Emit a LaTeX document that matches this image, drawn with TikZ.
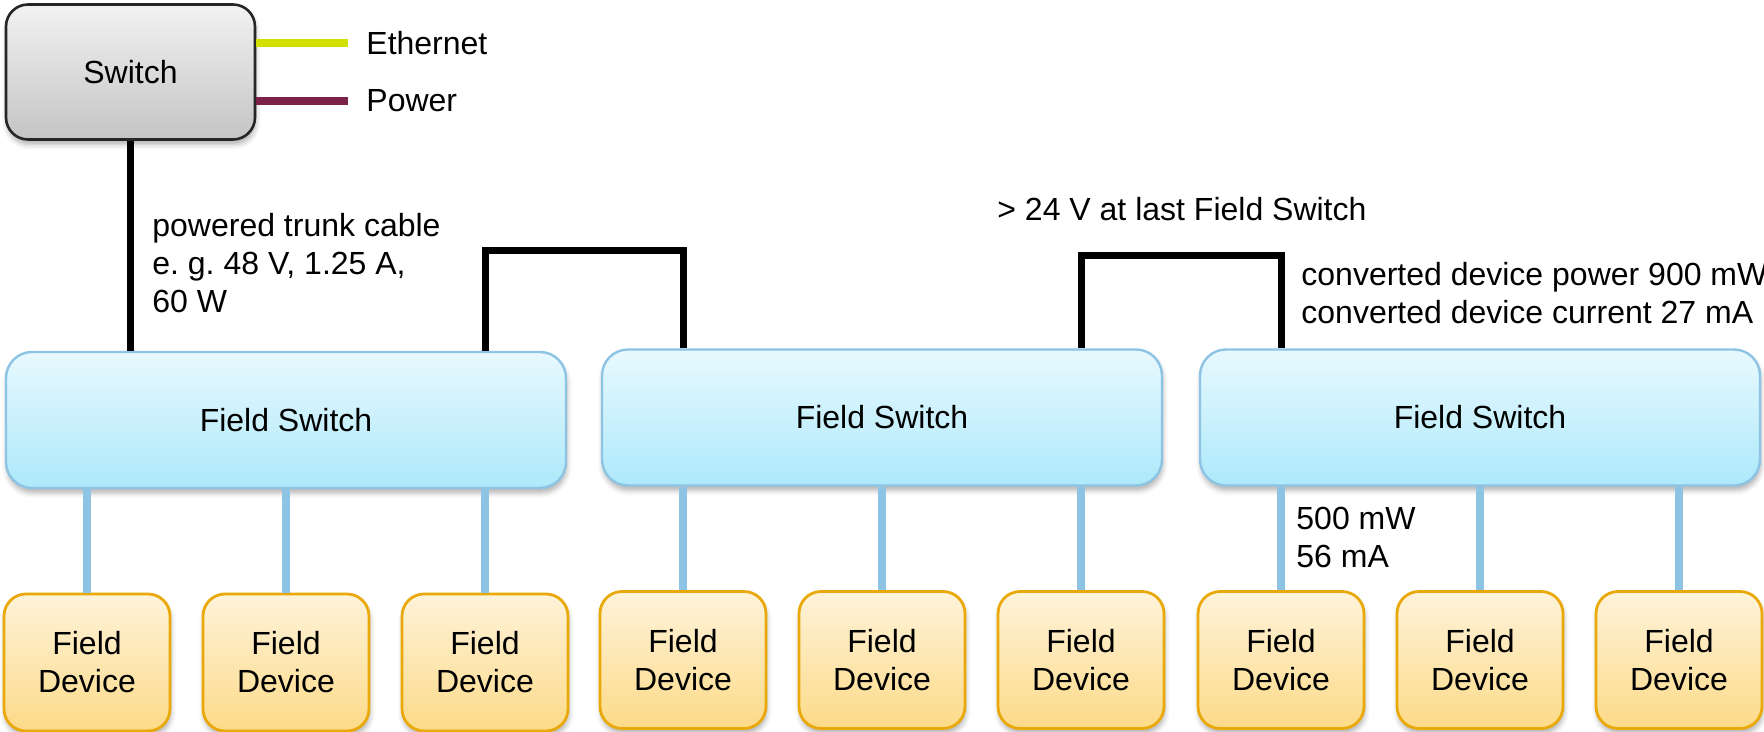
\documentclass[tikz,border=0pt]{standalone}
\usepackage{fontspec}
\setmainfont{Liberation Sans}
\usetikzlibrary{shadows.blur}
\frenchspacing

\definecolor{swtop}{HTML}{F2F2F2}
\definecolor{swbot}{HTML}{C4C4C4}
\definecolor{fstop}{HTML}{E8F9FE}
\definecolor{fsbot}{HTML}{ADE9FB}
\definecolor{fsline}{HTML}{8DC3E3}
\definecolor{devtop}{HTML}{FEF3DA}
\definecolor{devbot}{HTML}{FCDA88}
\definecolor{devline}{HTML}{E9A90A}
\definecolor{ethcol}{HTML}{D2E000}
\definecolor{powcol}{HTML}{7B2249}

\begin{document}
\begin{tikzpicture}[x=0.5pt, y=-0.5pt,
    every node/.style={font=\fontsize{16}{19}\selectfont},
    box/.style={rounded corners=11pt, blur shadow={shadow xshift=0.5pt, shadow yshift=-2.5pt,
        shadow opacity=30, shadow blur radius=2.5pt}},
    switchbox/.style={box, draw=black!85, line width=1.3pt, top color=swtop, bottom color=swbot,
        minimum width=124.5pt, minimum height=67.5pt},
    fieldswitch/.style={box, rounded corners=13pt, draw=fsline, line width=1.2pt,
        top color=fstop, bottom color=fsbot, minimum width=280pt, minimum height=68pt},
    device/.style={box, draw=devline, line width=1.4pt, top color=devtop, bottom color=devbot,
        minimum width=83pt, minimum height=68.5pt, align=center},
    trunk/.style={line width=3.5pt},
    stub/.style={line width=3.8pt, fsline},
    note/.style={anchor=west, inner sep=0pt, align=left}]
    \useasboundingbox (0,0) rectangle (1764,732);

    % switch and legend
    \node[switchbox] (sw) at (130.5,72) {Switch};
    \node[note] (eth) at (366,43) {Ethernet};
    \node[note] (pow) at (366,101) {Power};
    \draw[line width=4pt, ethcol] (sw.east |- eth.west) -- ([xshift=-9pt]eth.west);
    \draw[line width=4pt, powcol] (sw.east |- pow.west) -- ([xshift=-9pt]pow.west);

    % field switches with their devices
    \node[fieldswitch] (fs1) at (286,420) {Field Switch};
    \node[fieldswitch] (fs2) at (882,417.5) {Field Switch};
    \node[fieldswitch] (fs3) at (1480,417.5) {Field Switch};
    \foreach \s in {1,2,3} {
        \foreach \d/\dx in {1/-199, 2/0, 3/199} {
            \node[device] (d\s\d) at ([xshift=\dx*0.5pt, yshift=-121.25pt]fs\s.center) {Field\\Device};
            \draw[stub] (fs\s.south -| d\s\d) -- (d\s\d.north);
        }
    }

    % trunk cable
    \draw[trunk] (sw.south) -- (sw.south |- fs1.north);
    \draw[trunk] (d13 |- fs1.north) -- ++(0,-100) -| (d21 |- fs2.north);
    \draw[trunk] (d23 |- fs2.north) -- ++(0,-92.5) -| (d31 |- fs3.north);

    % labels
    \node[note] (trunklbl) at (152,263) {powered trunk cable\\e. g. 48 V, 1.25 A,\\60 W};
    \node[note] (lastlbl) at (997,209) {> 24 V at last Field Switch};
    \node[note] (convlbl) at (1301,293) {converted device power 900 mW\\converted device current 27 mA};
    \node[note] (devlbl) at (1296,537) {500 mW\\56 mA};
\end{tikzpicture}
\end{document}
